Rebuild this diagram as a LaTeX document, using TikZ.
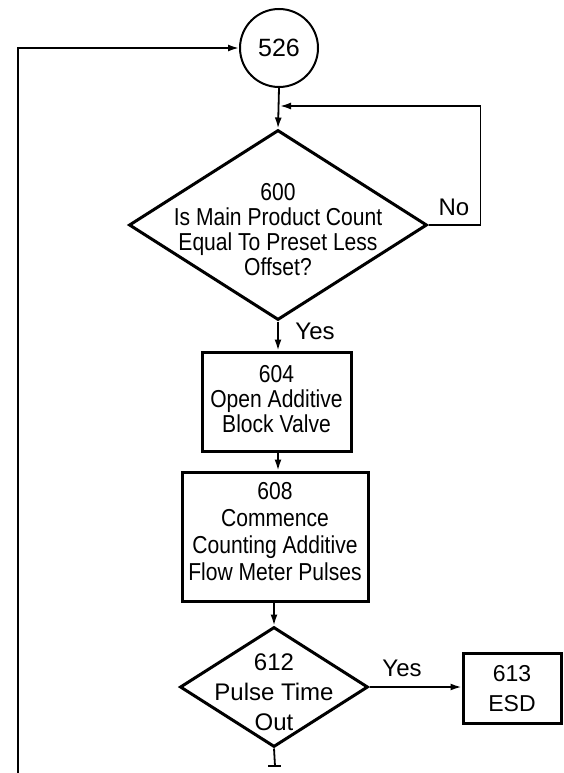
\documentclass[tikz,border=0pt]{standalone}
\usepackage{fontspec}
\setmainfont{Liberation Sans}
\newfontfamily\condfont{Liberation Sans}[FakeStretch=0.86]
\usetikzlibrary{shapes.geometric,arrows.meta,calc}
\begin{document}
\begin{tikzpicture}[x=1pt,y=-1pt,
  conn/.style={line width=1.8pt, -{Latex[length=11pt,width=7pt]}},
  plain/.style={line width=1.8pt},
  boxnode/.style={draw, line width=3pt, rectangle, inner sep=0pt},
  decnode/.style={draw, line width=3pt, diamond, inner sep=0pt},
  connode/.style={draw, line width=2pt, circle, inner sep=0pt, minimum size=78pt},
  ctxt/.style={align=center, inner sep=0pt, font=\fontsize{24.5}{25}\condfont},
  ntxt/.style={align=center, inner sep=0pt, font=\fontsize{24}{30}\selectfont},
]
\useasboundingbox (0,0) rectangle (563,773);

% nodes
\node[connode, font=\fontsize{25}{25}\selectfont] (c526) at (279,48) {526};
\node[decnode, minimum width=298pt, minimum height=190pt] (d600) at (278,225) {};
\node[ctxt] (t600) at (278,230) {600\\Is Main Product Count\\Equal To Preset Less\\Offset?};
\node[boxnode, minimum width=149pt, minimum height=99pt] (b604) at (276.5,401.5) {};
\node[ctxt] (t604) at (276.5,399) {604\\Open Additive\\Block Valve};
\node[boxnode, minimum width=186pt, minimum height=129pt] (b608) at (275,536.5) {};
\node[ctxt, font=\fontsize{24.5}{27}\condfont] (t608) at (275,532) {608\\Commence\\Counting Additive\\Flow Meter Pulses};
\node[decnode, minimum width=188pt, minimum height=120pt] (d612) at (274,687) {};
\node[ntxt] (t612) at (274,692) {612\\Pulse Time\\Out};
\node[boxnode, minimum width=98pt, minimum height=70pt] (b613) at (512,688) {};
\node[ntxt, font=\fontsize{23}{30}\selectfont] (t613) at (512,689) {613\\ESD};

% labels
\node[ntxt] (lno) at (454,207) {No};
\node[ntxt] (lyes1) at (315,331) {Yes};
\node[ntxt] (lyes2) at (402,668) {Yes};

% helper coordinates
\coordinate (lb) at (18,773);
\coordinate (fb) at (280,106);
\coordinate (bt) at (275,766);

% connectors
\draw[conn] (lb) |- (c526);
\draw[conn] (c526.south) -- (d600.north);
\draw[conn] (d600.east) -- ++(52,0) |- (fb);
\draw[conn] (d600.south) -- (d600.south |- b604.north);
\draw[conn] (b604.south -| d600.south) ++(0,-1.5) -- ($(b608.north -| d600.south)+(0,0)$);
\draw[conn] (b608.south -| d612.north) -- (d612.north);
\draw[conn] (d612.east) -- (d612.east -| b613.west);
\draw[plain] (d612.south) -- (bt);
\draw[plain] ($(bt)+(-7,0)$) -- ($(bt)+(6,0)$);
\end{tikzpicture}
\end{document}
